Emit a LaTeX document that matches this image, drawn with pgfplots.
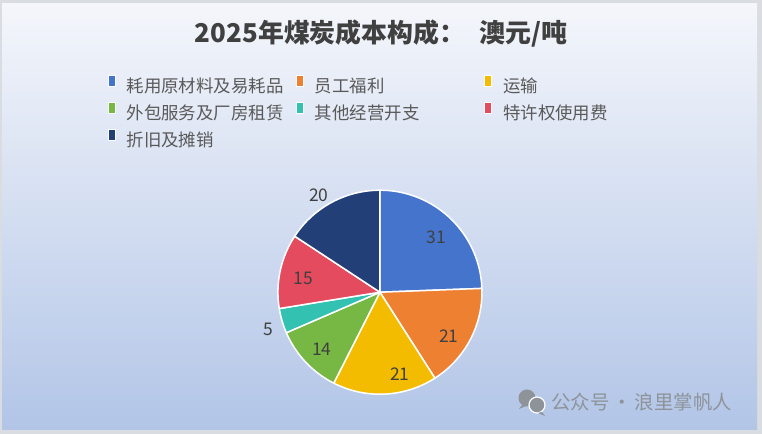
\documentclass[border=0pt]{standalone}
\usepackage{fontspec}
\setmainfont{Noto Sans CJK SC}
\usepackage{pgfplots}
\pgfplotsset{compat=1.18}
\usepackage{pgfplotstable}
\definecolor{c1}{HTML}{4574CC}
\definecolor{c2}{HTML}{EE8032}
\definecolor{c3}{HTML}{F4BC00}
\definecolor{c4}{HTML}{76B843}
\definecolor{c5}{HTML}{33C2B2}
\definecolor{c6}{HTML}{E44B5E}
\definecolor{c7}{HTML}{233F78}
\definecolor{bgtop}{HTML}{F4F6FB}
\definecolor{bgbot}{HTML}{B2C5E7}
\definecolor{frame}{HTML}{D9DCE1}
\definecolor{lgray}{HTML}{595959}
\definecolor{dgray}{HTML}{404040}
\definecolor{wm}{HTML}{8E939A}

\pgfplotstableread{
idx value
0 31
1 21
2 21
3 14
4 5
5 15
6 20
}\piedata

\gdef\total{0}
\pgfplotstableforeachcolumnelement{value}\of\piedata\as\v{%
  \pgfmathparse{\total+\v}\xdef\total{\pgfmathresult}}
\gdef\cum{0}
\newcommand\slice[2]{%
  \pgfplotstablegetelem{#1}{value}\of\piedata
  \pgfmathparse{90-360*(\cum/\total)}\let\sa\pgfmathresult
  \pgfmathparse{\cum+\pgfplotsretval}\xdef\cum{\pgfmathresult}%
  \pgfmathparse{90-360*(\cum/\total)}\let\sb\pgfmathresult
  \edef\doplot{\noexpand\addplot[fill=#2,draw=white,line width=1.5bp,line join=round,
     domain=\sb:\sa,samples=90,variable=\noexpand\t]
     ({cos(\noexpand\t)},{sin(\noexpand\t)}) -- (0,0) -- cycle;}%
  \doplot
}
\newcommand\lgd[1]{\makebox[169.5bp][l]{#1}}

\begin{document}
\begin{tikzpicture}[x=1bp,y=1bp]
\useasboundingbox (0,0) rectangle (762,434);
\fill[frame] (0,0) rectangle (762,434);
\shade[top color=bgtop, bottom color=bgbot] (2,4) rectangle (757,430);

\node[anchor=base, text=dgray, font=\fontsize{26}{30}\selectfont\bfseries, inner sep=0pt]
  at (381,391) {2025年煤炭成本构成：\hspace{14bp}澳元/吨};

\begin{axis}[
  scale only axis, width=204bp, height=204bp,
  xmin=-1, xmax=1, ymin=-1, ymax=1,
  hide axis, clip=false,
  anchor=south west, at={(272.5,39)},
  legend columns=3,
  legend image code/.code={\draw[#1, draw=white, line width=0.8bp] (0bp,1bp) rectangle (7bp,12bp);},
  legend style={at={(axis description cs:-0.835,1.566)}, anchor=north west,
    draw=none, fill=none, inner sep=0pt, row sep=6bp,
    font=\fontsize{17.5}{20}\selectfont, text=lgray,
    nodes={inner sep=0pt, text height=14bp, text depth=3bp},
    /tikz/every odd column/.append style={column sep=11bp},
    /tikz/every even column/.append style={column sep=0bp}},
  legend cell align=left,
]
\slice{0}{c1}\addlegendentry{\lgd{耗用原材料及易耗品}}
\slice{1}{c2}\addlegendentry{\lgd{员工福利}}
\slice{2}{c3}\addlegendentry{\lgd{运输}}
\slice{3}{c4}\addlegendentry{\lgd{外包服务及厂房租赁}}
\slice{4}{c5}\addlegendentry{\lgd{其他经营开支}}
\slice{5}{c6}\addlegendentry{\lgd{特许权使用费}}
\slice{6}{c7}\addlegendentry{\lgd{折旧及摊销}}
\begin{scope}[every node/.style={font=\fontsize{17.5}{20}\selectfont, text=dgray, inner sep=0pt}]
\node at (axis cs:0.556,0.536) {31};
\node at (axis cs:0.676,-0.428) {21};
\node at (axis cs:0.196,-0.804) {21};
\node at (axis cs:-0.571,-0.559) {14};
\node at (axis cs:-1.095,-0.363) {5};
\node at (axis cs:-0.752,0.134) {15};
\node at (axis cs:-0.598,0.951) {20};
\end{scope}
\end{axis}

% watermark
\fill[wm] (527,36) circle (8.5);
\fill[wm] (522,29) -- (519,25) -- (526,28) -- cycle;
\draw[white, line width=1.2bp, fill=wm] (537,29) circle (8);
\fill[wm] (542,22) -- (545,18) -- (538,21) -- cycle;
\node[anchor=base west, text=wm, font=\fontsize{19.5}{22}\selectfont, inner sep=0pt]
  at (551,24.6) {公众号\hspace{3bp}·\hspace{3bp}浪里掌帆人};
\end{tikzpicture}
\end{document}
